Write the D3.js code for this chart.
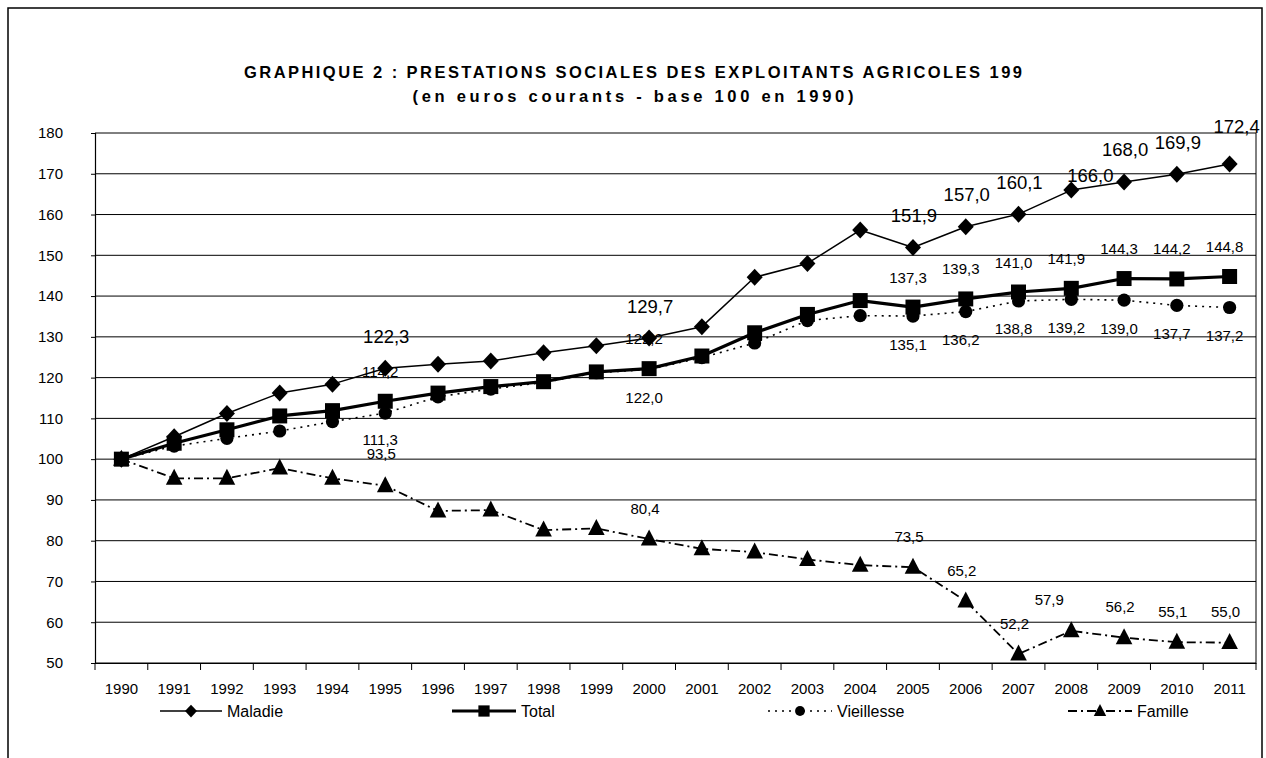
<!DOCTYPE html>
<html>
<head>
<meta charset="utf-8">
<script src="https://cdn.jsdelivr.net/npm/d3@7"></script>
<style>
  body { margin: 0; background: #fff; }
  svg { display: block; }
  text { font-family: "Liberation Sans", Arial, sans-serif; fill: #000; }
</style>
</head>
<body>
<svg id="chart" width="1266" height="758"></svg>
<script>
// ---- data -------------------------------------------------------------
const years = ["1990","1991","1992","1993","1994","1995","1996","1997","1998","1999","2000",
               "2001","2002","2003","2004","2005","2006","2007","2008","2009","2010","2011"];

const maladie    = [100, 105.5, 111.2, 116.2, 118.4, 122.3, 123.3, 124.1, 126.1, 127.8, 129.7,
                    132.5, 144.6, 148.0, 156.2, 151.9, 157.0, 160.1, 166.0, 168.0, 169.9, 172.4];
const total      = [100, 103.9, 107.2, 110.6, 111.9, 114.2, 116.2, 117.8, 119.0, 121.4, 122.2,
                    125.3, 131.0, 135.5, 138.9, 137.3, 139.3, 141.0, 141.9, 144.3, 144.2, 144.8];
const vieillesse = [100, 103.2, 105.1, 106.9, 109.2, 111.3, 115.3, 117.2, 118.8, 121.2, 122.0,
                    124.9, 128.5, 134.0, 135.2, 135.1, 136.2, 138.8, 139.2, 139.0, 137.7, 137.2];
const famille    = [100, 95.3, 95.3, 97.8, 95.3, 93.5, 87.3, 87.5, 82.6, 83.0, 80.4,
                    78.0, 77.2, 75.4, 74.0, 73.5, 65.2, 52.2, 57.9, 56.2, 55.1, 55.0];

// years that carry a value label
const labelYears = ["1995","2000","2005","2006","2007","2008","2009","2010","2011"];

const yTicks = [50, 60, 70, 80, 90, 100, 110, 120, 130, 140, 150, 160, 170, 180];

const titleText    = "GRAPHIQUE 2 : PRESTATIONS SOCIALES DES EXPLOITANTS AGRICOLES 199";
const subtitleText = "(en euros courants - base 100 en 1990)";

// ---- layout -----------------------------------------------------------
const W = 1266, H = 758;
const plot = { left: 95, right: 1256, top: 133, bottom: 663 };

const svg = d3.select("#chart");

const x = d3.scaleBand().domain(years).range([plot.left, plot.right]).padding(0);
const cx = d => x(d) + x.bandwidth() / 2;
const y = d3.scaleLinear().domain([50, 180]).range([plot.bottom, plot.top]);

const fr = d3.formatLocale({ decimal: ",", thousands: " ", grouping: [3], currency: ["", " €"] });
const fmt = fr.format(".1f");

// clip value labels to the chart frame
svg.append("defs").append("clipPath").attr("id", "frameClip")
  .append("rect").attr("x", 8).attr("y", 8).attr("width", 1254).attr("height", H);

// outer chart frame
svg.append("rect")
  .attr("x", 8).attr("y", 8).attr("width", 1254).attr("height", H + 20)
  .attr("fill", "none").attr("stroke", "#000").attr("stroke-width", 1.5);

// titles
svg.append("text")
  .attr("x", 633).attr("y", 78)
  .attr("text-anchor", "middle")
  .attr("font-size", 16.5).attr("font-weight", "bold")
  .attr("textLength", 778).attr("lengthAdjust", "spacing")
  .text(titleText);
svg.append("text")
  .attr("x", 633).attr("y", 102)
  .attr("text-anchor", "middle")
  .attr("font-size", 16.5).attr("font-weight", "bold")
  .attr("textLength", 441).attr("lengthAdjust", "spacing")
  .text(subtitleText);

// horizontal gridlines
svg.append("g").selectAll("line").data(yTicks).join("line")
  .attr("x1", plot.left).attr("x2", plot.right)
  .attr("y1", d => y(d)).attr("y2", d => y(d))
  .attr("stroke", "#000").attr("stroke-width", 1);

// right border of the plot area
svg.append("line")
  .attr("x1", plot.right).attr("x2", plot.right)
  .attr("y1", plot.top).attr("y2", plot.bottom)
  .attr("stroke", "#000").attr("stroke-width", 1);

// y axis
const yAxis = svg.append("g")
  .attr("transform", `translate(${plot.left},0)`)
  .call(d3.axisLeft(y).tickValues(yTicks).tickSize(4).tickPadding(28).tickFormat(d3.format("d")));
yAxis.select(".domain").attr("stroke", "#000").attr("stroke-width", 1.2);
yAxis.selectAll("text").attr("font-size", 15).attr("font-family", "Liberation Sans, Arial, sans-serif");

// x axis: labels centred in each category, ticks on category boundaries
const xAxis = svg.append("g")
  .attr("transform", `translate(0,${plot.bottom})`)
  .call(d3.axisBottom(x).tickSize(0).tickPadding(20));
xAxis.select(".domain").attr("stroke", "#000").attr("stroke-width", 1.2);
xAxis.selectAll("text").attr("font-size", 15).attr("font-family", "Liberation Sans, Arial, sans-serif");
svg.append("g").selectAll("line").data(d3.range(years.length + 1)).join("line")
  .attr("x1", i => plot.left + i * x.step()).attr("x2", i => plot.left + i * x.step())
  .attr("y1", plot.bottom).attr("y2", plot.bottom + 7)
  .attr("stroke", "#000").attr("stroke-width", 1);

// ---- marker shapes ----------------------------------------------------
const circlePath = (() => { const p = d3.path(); p.arc(0, 0, 6.6, 0, 2 * Math.PI); p.closePath(); return p.toString(); })();
const markerPath = {
  diamond:  "M0,-8.5L8,0L0,8.5L-8,0Z",
  square:   "M-7.5,-7.5H7.5V7.5H-7.5Z",
  circle:   circlePath,
  triangle: "M0,-9.5L8.3,6.5L-8.3,6.5Z"
};

// ---- series -----------------------------------------------------------
const series = [
  { name: "Famille",    values: famille,    width: 1.8, dash: "9,4,2,4", marker: "triangle",
    labelSize: 15, dx: -4, dy: -31, nudge: { "1995": [0, -1], "2008": [-18, 0] } },
  { name: "Vieillesse", values: vieillesse, width: 1.6, dash: "2,5",     marker: "circle",
    labelSize: 15, dx: -5, dy: 28, nudge: { "1995": [0, -2] } },
  { name: "Total",      values: total,      width: 3.2, dash: null,      marker: "square",
    labelSize: 15, dx: -5, dy: -30, nudge: {} },
  { name: "Maladie",    values: maladie,    width: 1.5, dash: null,      marker: "diamond",
    labelSize: 18.5, dx: 1, dy: -32, nudge: { "2008": [18, 17], "2011": [6, -5] } }
];

const line = d3.line().x(d => cx(d.year)).y(d => y(d.value));

series.forEach(s => {
  const pts = years.map((yr, i) => ({ year: yr, value: s.values[i] }));
  const g = svg.append("g").attr("class", "series-" + s.name);

  g.append("path").datum(pts)
    .attr("d", line)
    .attr("fill", "none").attr("stroke", "#000")
    .attr("stroke-width", s.width)
    .attr("stroke-linejoin", "round")
    .attr("stroke-dasharray", s.dash);

  g.selectAll("path.mk").data(pts).join("path")
    .attr("class", "mk")
    .attr("d", markerPath[s.marker])
    .attr("transform", d => `translate(${cx(d.year)},${y(d.value)})`)
    .attr("fill", "#000");

  g.append("g").attr("clip-path", "url(#frameClip)")
    .selectAll("text").data(pts.filter(d => labelYears.includes(d.year))).join("text")
    .attr("x", d => cx(d.year) + s.dx + (s.nudge[d.year] ? s.nudge[d.year][0] : 0))
    .attr("y", d => y(d.value) + s.dy + (s.nudge[d.year] ? s.nudge[d.year][1] : 0))
    .attr("text-anchor", "middle")
    .attr("dominant-baseline", "central")
    .attr("font-size", s.labelSize)
    .text(d => fmt(d.value));
});

// ---- legend -----------------------------------------------------------
const legendY = 711;
const legendItems = [
  { s: series[3], cx: 191, x0: 160, x1: 222 },
  { s: series[2], cx: 484, x0: 452, x1: 516 },
  { s: series[1], cx: 800, x0: 768, x1: 832 },
  { s: series[0], cx: 1100, x0: 1068, x1: 1132 }
];
const lg = svg.append("g").attr("class", "legend");
legendItems.forEach(it => {
  lg.append("line")
    .attr("x1", it.x0).attr("x2", it.x1).attr("y1", legendY).attr("y2", legendY)
    .attr("stroke", "#000").attr("stroke-width", it.s.width)
    .attr("stroke-dasharray", it.s.dash);
  lg.append("path")
    .attr("d", markerPath[it.s.marker])
    .attr("transform", `translate(${it.cx},${legendY}) scale(0.75)`)
    .attr("fill", "#000");
  lg.append("text")
    .attr("x", it.x1 + 5).attr("y", legendY)
    .attr("dominant-baseline", "central")
    .attr("font-size", 16)
    .text(it.s.name);
});
</script>
</body>
</html>
